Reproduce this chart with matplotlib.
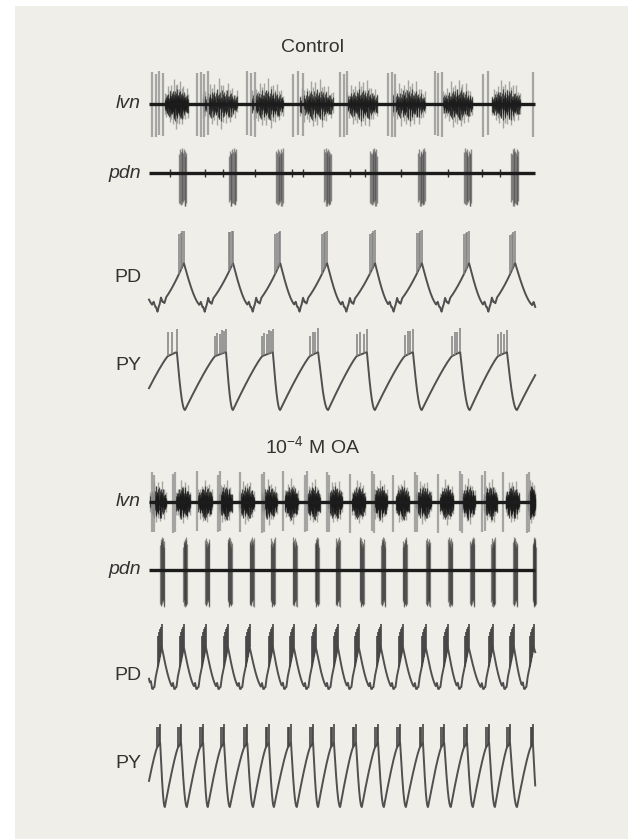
import numpy as np
import matplotlib

matplotlib.use("Agg")
import matplotlib.pyplot as plt
from matplotlib.patches import Rectangle

plt.rcParams["font.family"] = ["Liberation Sans", "DejaVu Sans"]
plt.rcParams["mathtext.fontset"] = "custom"
plt.rcParams["mathtext.rm"] = "Liberation Sans"
plt.rcParams["mathtext.default"] = "regular"


# ----------------------
# RECORDING DATA (times in s, 10 s sweeps)
# ----------------------

SWEEP = 10.0
T_END = 9.98

# --- Control ---
# lvn: large LP units and the mid-size unit activity between them
LVN_CTRL_LP_ON = [0.08, 1.24, 2.53, 3.72, 4.94, 6.18, 7.39, 8.63, 9.92]
LVN_CTRL_LP_OFF = [0.36, 1.52, 2.74, 3.98, 5.12, 6.36, 7.57, 8.76, 9.92]
LVN_CTRL_LP_N = [4, 4, 3, 3, 3, 3, 3, 2, 1]
LVN_CTRL_ACT_ON = [0.41, 1.40, 2.66, 3.90, 5.12, 6.30, 7.60, 8.86]
LVN_CTRL_ACT_OFF = [1.01, 2.27, 3.46, 4.75, 5.89, 7.13, 8.35, 9.59]

# pdn: PD bursts and a few small units in between
PDN_CTRL_ON = [0.78, 2.07, 3.29, 4.53, 5.72, 6.96, 8.15, 9.36]
PDN_CTRL_OFF = [0.96, 2.25, 3.46, 4.70, 5.89, 7.13, 8.32, 9.54]
PDN_CTRL_BLIPS = [0.55, 1.45, 1.92, 2.74, 3.70, 3.98, 5.19, 5.58, 6.50, 7.73, 8.60, 9.07]

# PD intracellular: troughs, slow-wave peaks, spike onsets
PD_CTRL_PREV_PEAK = -0.30
PD_CTRL_TROUGH = [0.18, 1.40, 2.64, 3.85, 5.06, 6.28, 7.52, 8.73, 10.00]
PD_CTRL_PEAK = [0.90, 2.17, 3.39, 4.60, 5.84, 7.05, 8.27, 9.46]
PD_CTRL_SPK_ON = [0.78, 2.07, 3.26, 4.47, 5.71, 6.93, 8.14, 9.33]
PD_CTRL_NSPK = [4, 4, 4, 4, 4, 4, 4, 4]
PD_CTRL_WIGGLE_DT = [-0.06, 0.04, 0.13, 0.22]
PD_CTRL_WIGGLE_AMP = [0.10, -0.12, 0.14, -0.08]

# PY intracellular: troughs, plateau on/off (burst)
PY_CTRL_TROUGH = [-0.28, 0.93, 2.17, 3.39, 4.63, 5.84, 7.05, 8.29, 9.51]
PY_CTRL_ON = [0.49, 1.71, 2.93, 4.16, 5.37, 6.61, 7.83, 9.02, 10.30]
PY_CTRL_OFF = [0.72, 1.99, 3.20, 4.37, 5.63, 6.82, 8.04, 9.25, 10.50]
PY_CTRL_NSPK = [3, 6, 6, 4, 4, 4, 4, 4, 0]

# --- 10^-4 M octopamine ---
LVN_OA_LP = [0.08, 0.62, 1.24, 1.78, 2.35, 2.92, 3.46, 4.03, 4.60,
             5.19, 5.76, 6.30, 6.87, 7.47, 8.04, 8.61, 9.15, 9.77]
LVN_OA_LP_N = [2, 2, 1, 2, 1, 2, 1, 2, 2, 1, 2, 1, 2, 1, 2, 2, 1, 2]
LVN_OA_ACT_ON = [0.03, 0.70, 1.27, 1.81, 2.33, 2.92, 3.51, 4.08, 4.63,
                 5.25, 5.81, 6.38, 6.90, 7.52, 8.09, 8.66, 9.22, 9.79]
LVN_OA_ACT_OFF = [0.44, 1.06, 1.63, 2.14, 2.71, 3.30, 3.84, 4.42, 4.99,
                  5.58, 6.15, 6.72, 7.29, 7.86, 8.42, 8.99, 9.56, 9.97]

PDN_OA_ON = [0.29, 0.88, 1.45, 2.04, 2.61, 3.15, 3.72, 4.29, 4.83,
             5.45, 6.00, 6.56, 7.16, 7.73, 8.30, 8.84, 9.41, 9.92]
PDN_OA_OFF = [0.39, 0.98, 1.55, 2.14, 2.71, 3.25, 3.82, 4.39, 4.93,
              5.55, 6.10, 6.66, 7.26, 7.83, 8.40, 8.94, 9.51, 9.99]

PD_OA_PREV_PEAK = -0.12
PD_OA_TROUGH = [0.10, 0.67, 1.24, 1.81, 2.37, 2.97, 3.51, 4.08, 4.65, 5.19,
                5.76, 6.33, 6.92, 7.49, 8.03, 8.65, 9.20, 9.71, 10.45]
PD_OA_PEAK = [0.33, 0.90, 1.47, 2.04, 2.60, 3.20, 3.74, 4.31, 4.88,
              5.42, 5.99, 6.56, 7.15, 7.72, 8.26, 8.88, 9.43, 9.94]
PD_OA_SPK_ON = [0.23, 0.80, 1.37, 1.94, 2.50, 3.10, 3.64, 4.21, 4.78,
                5.32, 5.89, 6.46, 7.05, 7.62, 8.16, 8.78, 9.33, 9.84]
PD_OA_NSPK = [5] * 18
PD_OA_WIGGLE_DT = [-0.05, 0.04]
PD_OA_WIGGLE_AMP = [0.12, -0.10]

PY_OA_TROUGH = [-0.13, 0.41, 0.98, 1.52, 2.09, 2.69, 3.23, 3.82, 4.37, 4.94,
                5.50, 6.07, 6.64, 7.21, 7.80, 8.37, 8.94, 9.51, 10.05]
PY_OA_ON = [0.21, 0.75, 1.32, 1.86, 2.46, 3.02, 3.59, 4.16, 4.70,
            5.27, 5.84, 6.41, 7.00, 7.55, 8.14, 8.71, 9.25, 9.86]
PY_OA_OFF = [0.29, 0.83, 1.40, 1.94, 2.54, 3.10, 3.67, 4.24, 4.78,
             5.35, 5.92, 6.49, 7.08, 7.63, 8.22, 8.79, 9.33, 9.92]
PY_OA_NSPK = [3] * 18

# relative unit amplitudes cycled through within bursts
UNIT_UP = [0.30, 0.16, 0.38, 0.22, 0.10, 0.44, 0.20, 0.33, 0.13, 0.27,
           0.40, 0.17, 0.25, 0.08, 0.35, 0.21, 0.47, 0.15, 0.29, 0.19]
UNIT_DN = [0.25, 0.40, 0.14, 0.32, 0.48, 0.19, 0.35, 0.11, 0.43, 0.27,
           0.17, 0.37, 0.22, 0.52, 0.29, 0.09, 0.33, 0.20, 0.42, 0.24]
MID_UP = [0.62, 0.48, 0.75, 0.55, 0.68, 0.44, 0.80, 0.58]
MID_DN = [0.58, 0.70, 0.46, 0.64, 0.52, 0.77, 0.49, 0.66]
PDN_UP = [0.75, 0.95, 0.85, 1.00, 0.90, 0.80, 0.97, 0.70, 0.88, 0.82]
PDN_DN = [1.20, 1.30, 1.10, 1.25, 1.32, 1.15, 1.28, 1.20, 1.08, 1.22]
PD_SPK_H = [0.90, 0.84, 0.80, 0.74]
PY_SPK_H = [0.41, 0.38, 0.40, 0.34, 0.39, 0.36]
PD_OA_SPK_H = [0.72, 0.70, 0.66, 0.60, 0.55]
PY_OA_SPK_H = [0.32, 0.28, 0.30]


# ----------------------
# HELPERS
# ----------------------

W, H = 628, 839
X0, X1 = 149, 536
BG = "#efeee8"
INK = "#333333"
TRACE = "#505050"

fig = plt.figure(figsize=(W / 100, H / 100), dpi=100)
fig.patch.set_facecolor("white")
fig.patches.append(Rectangle((15 / W, 0), 1 - 15 / W, 1 - 6 / H,
                             transform=fig.transFigure, facecolor=BG,
                             edgecolor="none", zorder=-10))


def trace_axes(y_base, y_unit):
    # value 0 sits on pixel row y_base, value 1 on pixel row y_unit
    ax = fig.add_axes([X0 / W, 1 - y_base / H, (X1 - X0) / W, (y_base - y_unit) / H])
    ax.set_xlim(0, SWEEP)
    ax.set_ylim(0, 1)
    ax.axis("off")
    ax.patch.set_alpha(0)
    return ax


def slow_wave(t, troughs, ons, offs, prev_off=None, rise_pow=1.5, concave=False,
              top_start=1.0):
    v = np.zeros_like(t)

    def fill(a, b, f):
        m = (t >= a) & (t <= b)
        if b > a and m.any():
            v[m] = f((t[m] - a) / (b - a))

    if concave:
        rise = lambda u: top_start * (1 - (1 - u) ** rise_pow)
    else:
        rise = lambda u: top_start * u ** rise_pow
    for a, b in zip(troughs, ons):
        fill(a, b, rise)
    for a, b in zip(ons, offs):
        fill(a, b, lambda u: top_start + (1 - top_start) * u)
    falls = list(zip(offs, troughs[1:]))
    if prev_off is not None:
        falls.append((prev_off, troughs[0]))
    for a, b in falls:
        fill(a, b, lambda u: 1 - np.sin(np.pi / 2 * u))
    return v


def add_wiggles(t, v, troughs, dts, amps, width):
    for tr in troughs:
        for dt, a in zip(dts, amps):
            v += a * np.clip(1 - np.abs(t - (tr + dt)) / width, 0, None)
    return v


def burst_times(ons, offs, counts):
    return [np.linspace(a, b, n) for a, b, n in zip(ons, offs, counts) if n > 0]


def unit_burst(ax, ons, offs, counts, up, dn, shaped, color, lw, alpha, z=2):
    ts, lo, hi = [], [], []
    for i, times in enumerate(burst_times(ons, offs, counts)):
        n = len(times)
        u = np.linspace(0, 1, n)
        env = 0.55 + 0.45 * np.sin(np.pi * u) if shaped else np.ones(n)
        for k in range(n):
            ts.append(times[k])
            hi.append(up[(k + 7 * i) % len(up)] * env[k])
            lo.append(-dn[(3 * k + 5 * i) % len(dn)] * env[k])
    ax.vlines(ts, lo, hi, colors=color, linewidth=lw, alpha=alpha,
              clip_on=False, zorder=z)


def cell_spikes(ax, t, v, ons, offs, counts, heights, color, lw):
    ts = np.concatenate(burst_times(ons, offs, counts))
    base = np.interp(ts, t, v)
    hs = np.array([heights[k % len(heights)] for k in range(len(ts))])
    ax.vlines(ts, base, base + hs, colors=color, linewidth=lw, clip_on=False)


def baseline(ax):
    tb = np.linspace(0, T_END, 50)
    ax.plot(tb, np.zeros_like(tb), color="#1c1c1c", linewidth=2.4,
            solid_capstyle="butt", clip_on=False, zorder=3)


def label(text, y, italic=False):
    fig.text(141 / W, 1 - y / H, text, ha="right", va="center", fontsize=14,
             color=INK, style="italic" if italic else "normal")


t = np.linspace(0, T_END, 4000)

# ----------------------
# CONTROL
# ----------------------

fig.text(313 / W, 1 - 47 / H, "Control", ha="center", va="center",
         fontsize=14, color=INK)

ax = trace_axes(104, 72)
unit_burst(ax, LVN_CTRL_ACT_ON, LVN_CTRL_ACT_OFF, [16] * 8, MID_UP, MID_DN,
           True, "#6a6a6a", 1.0, 0.55)
unit_burst(ax, LVN_CTRL_ACT_ON, LVN_CTRL_ACT_OFF, [70] * 8, UNIT_UP, UNIT_DN,
           True, "#1a1a1a", 0.9, 0.7)
unit_burst(ax, LVN_CTRL_LP_ON, LVN_CTRL_LP_OFF, LVN_CTRL_LP_N,
           [1.0, 0.95, 1.02, 0.97], [1.03, 1.0, 0.98, 1.02], False, "#999999", 1.6, 0.85)
baseline(ax)
label("lvn", 104, italic=True)

ax = trace_axes(173, 148)
unit_burst(ax, PDN_CTRL_ON, PDN_CTRL_OFF, [10] * 8, PDN_UP, PDN_DN,
           False, "#4a4a4a", 1.0, 0.6)
ax.vlines(PDN_CTRL_BLIPS, -0.16, 0.16, colors="#333333", linewidth=1.0, clip_on=False)
baseline(ax)
label("pdn", 173, italic=True)

ax = trace_axes(307, 263)
v_pd = slow_wave(t, PD_CTRL_TROUGH, PD_CTRL_PEAK, PD_CTRL_PEAK,
                 prev_off=PD_CTRL_PREV_PEAK, rise_pow=1.5)
v_pd = add_wiggles(t, v_pd, PD_CTRL_TROUGH, PD_CTRL_WIGGLE_DT, PD_CTRL_WIGGLE_AMP, 0.04)
ax.plot(t, v_pd, color=TRACE, linewidth=1.4, clip_on=False)
cell_spikes(ax, t, v_pd, PD_CTRL_SPK_ON, PD_CTRL_PEAK, PD_CTRL_NSPK, PD_SPK_H,
            "#808080", 1.1)
label("PD", 277)

ax = trace_axes(410, 352)
v_py = slow_wave(t, PY_CTRL_TROUGH, PY_CTRL_ON, PY_CTRL_OFF, rise_pow=1.15,
                 concave=True, top_start=0.93)
ax.plot(t, v_py, color=TRACE, linewidth=1.4, clip_on=False)
cell_spikes(ax, t, v_py, PY_CTRL_ON, PY_CTRL_OFF, PY_CTRL_NSPK, PY_SPK_H,
            "#808080", 1.1)
label("PY", 365)

# ----------------------
# OCTOPAMINE
# ----------------------

fig.text(313 / W, 1 - 446 / H, r"10$^{-4}$ M OA", ha="center", va="center",
         fontsize=14, color=INK)

ax = trace_axes(502, 472)
unit_burst(ax, LVN_OA_ACT_ON, LVN_OA_ACT_OFF, [9] * 18, MID_UP, MID_DN,
           True, "#6a6a6a", 1.0, 0.55)
unit_burst(ax, LVN_OA_ACT_ON, LVN_OA_ACT_OFF, [45] * 18,
           [a * 1.15 for a in UNIT_UP], [a * 1.15 for a in UNIT_DN],
           True, "#1a1a1a", 0.9, 0.75)
lp_off = [tt + 0.06 * (n - 1) for tt, n in zip(LVN_OA_LP, LVN_OA_LP_N)]
unit_burst(ax, LVN_OA_LP, lp_off, LVN_OA_LP_N,
           [1.0, 0.9, 1.05, 0.95], [1.0, 1.02, 0.96, 0.99], False, "#999999", 1.6, 0.85)
baseline(ax)
label("lvn", 502, italic=True)

ax = trace_axes(570, 537)
unit_burst(ax, PDN_OA_ON, PDN_OA_OFF, [9] * 18, PDN_UP, [d * 0.85 for d in PDN_DN],
           False, "#333333", 0.9, 0.55)
baseline(ax)
label("pdn", 570, italic=True)

ax = trace_axes(689, 647)
v_pd = slow_wave(t, PD_OA_TROUGH, PD_OA_PEAK, PD_OA_PEAK,
                 prev_off=PD_OA_PREV_PEAK, rise_pow=1.1)
v_pd = add_wiggles(t, v_pd, PD_OA_TROUGH, PD_OA_WIGGLE_DT, PD_OA_WIGGLE_AMP, 0.03)
ax.plot(t, v_pd, color=TRACE, linewidth=1.4, clip_on=False)
cell_spikes(ax, t, v_pd, PD_OA_SPK_ON, PD_OA_PEAK, PD_OA_NSPK, PD_OA_SPK_H,
            "#444444", 1.2)
label("PD", 675)

ax = trace_axes(807, 743)
v_py = slow_wave(t, PY_OA_TROUGH, PY_OA_ON, PY_OA_OFF, rise_pow=1.2,
                 concave=True, top_start=0.93)
ax.plot(t, v_py, color=TRACE, linewidth=1.4, clip_on=False)
cell_spikes(ax, t, v_py, PY_OA_ON, PY_OA_OFF, PY_OA_NSPK, PY_OA_SPK_H,
            "#444444", 1.2)
label("PY", 763)

fig.savefig("out.png", dpi=100, facecolor=fig.get_facecolor())
